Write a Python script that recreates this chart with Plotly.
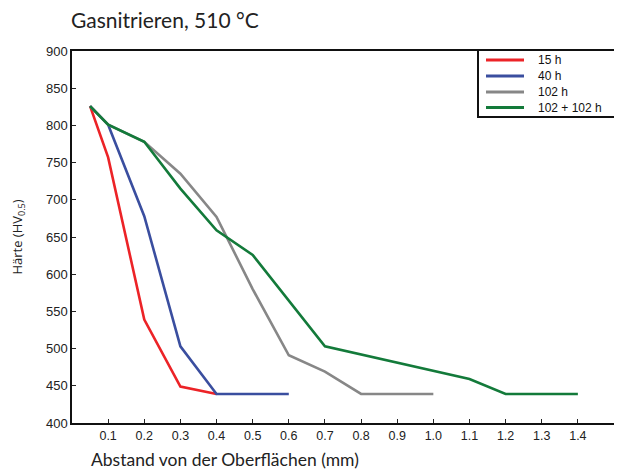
import plotly.graph_objects as go

# Data
x_15 = [0.05, 0.1, 0.2, 0.3, 0.4]
y_15 = [826, 757, 539, 449, 439]

x_40 = [0.05, 0.1, 0.2, 0.3, 0.4, 0.6]
y_40 = [826, 801, 678, 503, 439, 439]

x_102 = [0.05, 0.1, 0.2, 0.3, 0.4, 0.5, 0.6, 0.7, 0.8, 1.0]
y_102 = [826, 801, 778, 735, 677, 580, 491, 469, 439, 439]

x_204 = [0.05, 0.1, 0.2, 0.3, 0.4, 0.5, 0.7, 1.1, 1.2, 1.4]
y_204 = [826, 801, 778, 715, 659, 626, 503, 459, 439, 439]

series_names = ["15 h", "40 h", "102 h", "102 + 102 h"]
series_x = [x_15, x_40, x_102, x_204]
series_y = [y_15, y_40, y_102, y_204]
series_colors = ["#ec2327", "#3a4e9f", "#878787", "#137a3a"]

x_ticks = [0.1, 0.2, 0.3, 0.4, 0.5, 0.6, 0.7, 0.8, 0.9, 1.0, 1.1, 1.2, 1.3, 1.4, 1.5]
x_ticklabels = ["0.1", "0.2", "0.3", "0.4", "0.5", "0.6", "0.7", "0.8", "0.9", "1.0",
                "1.1", "1.2", "1.3", "1.4", "1.5"]
y_ticks = [400, 450, 500, 550, 600, 650, 700, 750, 800, 850, 900]

# Figure geometry (page has an 8px body margin, so figure is 8px smaller)
W, H = 614, 462
ML, MR, MT, MB = 64, 8, 43, 47
PW, PH = W - ML - MR, H - MT - MB


def px(fx):
    return (fx - ML) / PW


def py(fy):
    return (H - MB - fy) / PH


fig = go.Figure()
for name, xs, ys, color in zip(series_names, series_x, series_y, series_colors):
    fig.add_trace(go.Scatter(x=xs, y=ys, mode="lines", name=name,
                             line=dict(color=color, width=2.6)))

fig.update_layout(
    width=W, height=H,
    margin=dict(l=ML, r=MR, t=MT, b=MB),
    paper_bgcolor="white", plot_bgcolor="white",
    font=dict(family="Liberation Sans, Arial, sans-serif", size=12, color="#222"),
    title=dict(text="Gasnitrieren, 510 °C", x=63 / W, xanchor="left",
               y=1 - 13 / H, yanchor="middle",
               font=dict(family="Lato, Noto Sans, sans-serif", size=21, color="#222")),
    xaxis=dict(range=[0, 1.5], tickvals=x_ticks, ticktext=x_ticklabels,
               ticks="inside", ticklen=4, tickcolor="#222", tickwidth=1,
               showline=True, linecolor="#111", linewidth=1.5, mirror=True,
               showgrid=False, zeroline=False, tickfont=dict(size=12.5),
               automargin=False),
    yaxis=dict(range=[400, 900], tickvals=y_ticks,
               ticks="inside", ticklen=4, tickcolor="#222", tickwidth=1,
               showline=True, linecolor="#111", linewidth=1.5, mirror=True,
               showgrid=False, zeroline=False, tickfont=dict(size=13),
               automargin=False,
               title=dict(text="Härte (HV<sub>0.5</sub>)",
                          font=dict(family="Open Sans, sans-serif", size=13),
                          standoff=22)),
    showlegend=False,
)

# Legend box (drawn manually to match the compact reference legend)
fig.add_shape(type="rect", xref="paper", yref="paper",
              x0=px(470), x1=px(613), y0=py(109), y1=py(42),
              line=dict(color="#111", width=2), fillcolor="white", layer="above")
row_y = [52, 68, 84, 99.5]
for name, color, ry in zip(series_names, series_colors, row_y):
    fig.add_shape(type="line", xref="paper", yref="paper",
                  x0=px(478), x1=px(516), y0=py(ry), y1=py(ry),
                  line=dict(color=color, width=3), layer="above")
    fig.add_annotation(text=name, xref="paper", yref="paper",
                       x=px(528), xanchor="left", y=py(ry), yanchor="middle",
                       showarrow=False, font=dict(size=12, color="#111"))

fig.add_annotation(text="Abstand von der Oberflächen (mm)", xref="paper", yref="paper",
                   x=px(81), xanchor="left", y=py(452), yanchor="middle",
                   showarrow=False,
                   font=dict(family="Lato, Noto Sans, sans-serif", size=17.5, color="#222"))

fig.write_html("out.html")
